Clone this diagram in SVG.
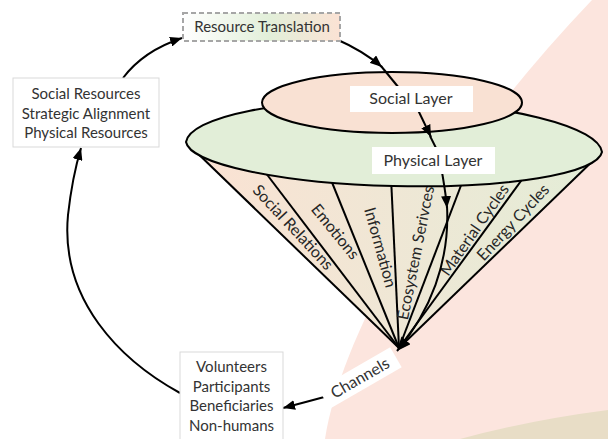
<svg xmlns="http://www.w3.org/2000/svg" width="608" height="439" viewBox="0 0 608 439">
<defs>
<style>
text{font-family:Lato,"Liberation Sans",sans-serif;font-size:15px;fill:#333;text-anchor:middle}
.ln{stroke:#000;stroke-width:2;fill:none}
.conn{stroke:#000;stroke-width:2;fill:none}
.box{fill:#fff;stroke:#d9d9d9;stroke-width:1}
.lbl{fill:#fff;stroke:none}
.ct{font-size:16px;fill:#262626}
</style>
<linearGradient id="coneG" x1="190" y1="0" x2="602" y2="0" gradientUnits="userSpaceOnUse">
<stop offset="0" stop-color="#fbe2d3"/>
<stop offset="0.5" stop-color="#efe7d5"/>
<stop offset="1" stop-color="#e3edd7"/>
</linearGradient>
<linearGradient id="rtG" x1="0" y1="0" x2="1" y2="0">
<stop offset="0" stop-color="#ffffff"/>
<stop offset="0.55" stop-color="#e2efd9"/>
<stop offset="1" stop-color="#fbe2d4"/>
</linearGradient>
<marker id="ah" markerUnits="userSpaceOnUse" markerWidth="12" markerHeight="10" refX="12" refY="5" orient="auto">
<path d="M0,0 L12,5 L0,10 Z" fill="#000"/>
</marker>
<marker id="ahb" markerUnits="userSpaceOnUse" markerWidth="14" markerHeight="12" refX="14" refY="6" orient="auto">
<path d="M0,0 L14,6 L0,12 Z" fill="#000"/>
</marker>
</defs>
<g id="background">
<path d="M325,439 C340,340 430,170 592,0 L608,0 L608,439 Z" fill="#fce5de"/>
<path d="M460,439 Q530,420 608,410 L608,439 Z" fill="#e8ddc6"/>
</g>
<g id="cone">
<path d="M399,348 L187,143 L602,152 Z" fill="url(#coneG)"/>
<path class="ln" d="M399,348 L188,144"/>
<path class="ln" d="M399,348 L262,168"/>
<path class="ln" d="M399,348 L329,175"/>
<path class="ln" d="M399,348 L391,177"/>
<path class="ln" d="M399,348 L465,175"/>
<path class="ln" d="M399,348 L529,170"/>
<path class="ln" d="M399,348 L601,153"/>
<text class="ct" transform="translate(289,231) rotate(47)">Social Relations</text>
<text class="ct" transform="translate(331,235) rotate(51)">Emotions</text>
<text class="ct" transform="translate(375,249) rotate(74.5)">Information</text>
<text class="ct" transform="translate(421,254) rotate(-78.7)">Ecosystem Serivces</text>
<text class="ct" transform="translate(479,233) rotate(-55)">Material Cycles</text>
<text class="ct" transform="translate(517,226) rotate(-47)">Energy Cycles</text>
</g>
<g id="physical-layer-shape">
<path d="M186,142 A208.2,48 1.4 0 1 602,152 A208.2,40.5 1.4 0 1 186,142 Z" fill="#e2eed8" stroke="#000" stroke-width="2"/>
</g>
<g id="social-layer-shape">
<ellipse cx="392" cy="102.5" rx="130" ry="30.5" fill="#f9e1d3" stroke="#000" stroke-width="2"/>
</g>
<g id="connectors">
<path class="conn" d="M336,39 C352,46 368,55 382,67" marker-end="url(#ah)"/>
<path class="conn" d="M381,66 L399,88"/>
<path class="conn" d="M418,110 L431,137" marker-end="url(#ah)"/>
<path class="conn" d="M430,136 L436,148"/>
<path class="conn" d="M442,172 C444,184 446,195 447,208" marker-end="url(#ah)"/>
<path class="conn" d="M447,206 C450,262 430,312 397,351" marker-end="url(#ahb)"/>
<path class="conn" d="M328,396 Q306,402 283,408" marker-end="url(#ah)"/>
<path class="conn" d="M180,393 C120,360 60,300 68,215 C71,188 75,168 81,148" marker-end="url(#ah)"/>
<path class="conn" d="M123,78 C135,62 155,47 182,38" marker-end="url(#ah)"/>
</g>
<g id="resource-translation">
<rect x="183" y="13" width="157" height="28" fill="url(#rtG)" stroke="#a6a6a6" stroke-width="2" stroke-dasharray="5,3"/>
<text x="262" y="32" fill="#222">Resource Translation</text>
</g>
<g id="social-layer">
<rect class="lbl" x="350" y="86" width="123" height="26"/>
<text x="411" y="104" style="font-size:16px">Social Layer</text>
</g>
<g id="physical-layer">
<rect class="lbl" x="372" y="147" width="123" height="27"/>
<text x="433" y="166" style="font-size:16px">Physical Layer</text>
</g>
<g id="resources">
<rect class="box" x="13" y="78" width="146" height="69"/>
<text x="86" y="99" fill="#404040">Social Resources</text>
<text x="86" y="119" fill="#404040">Strategic Alignment</text>
<text x="86" y="138" fill="#404040">Physical Resources</text>
</g>
<g id="stakeholders">
<rect class="box" x="180" y="352" width="103" height="90"/>
<text x="231.5" y="372" fill="#404040">Volunteers</text>
<text x="231.5" y="392" fill="#404040">Participants</text>
<text x="231.5" y="411" fill="#404040">Beneficiaries</text>
<text x="231.5" y="431" fill="#404040">Non-humans</text>
</g>
<g id="channels">
<g transform="translate(360,378) rotate(-30)">
<rect class="lbl" x="-41.5" y="-11.5" width="83" height="23"/>
<text x="0" y="5.5" style="font-size:16px">Channels</text>
</g>
</g>
</svg>
